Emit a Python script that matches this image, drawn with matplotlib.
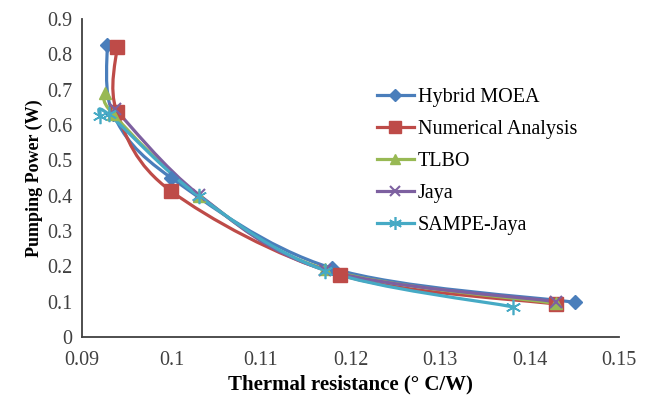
import matplotlib
matplotlib.use("Agg")
import matplotlib.pyplot as plt
from matplotlib.path import Path
from matplotlib.patches import PathPatch
from matplotlib.lines import Line2D
import numpy as np

# Data
hybrid_x = [0.0928, 0.0935, 0.1000, 0.1179, 0.1451]
hybrid_y = [0.827, 0.630, 0.450, 0.195, 0.098]
num_x = [0.0939, 0.0939, 0.1000, 0.1188, 0.1430]
num_y = [0.820, 0.637, 0.412, 0.176, 0.093]
tlbo_x = [0.0926, 0.0935, 0.1031, 0.1172, 0.1430]
tlbo_y = [0.690, 0.630, 0.400, 0.192, 0.095]
jaya_x = [0.0937, 0.1031, 0.1172, 0.1430]
jaya_y = [0.645, 0.402, 0.190, 0.100]
sampe_x = [0.0920, 0.0930, 0.1031, 0.1172, 0.1382]
sampe_y = [0.625, 0.630, 0.398, 0.188, 0.085]

series = [
    ("Hybrid MOEA", hybrid_x, hybrid_y, "#4A7EBB", "D", 7, 1),
    ("Numerical Analysis", num_x, num_y, "#BE4B48", "s", 10, 1),
    ("TLBO", tlbo_x, tlbo_y, "#98B954", "^", 9, 1),
    ("Jaya", jaya_x, jaya_y, "#7D60A0", "x", 9, 1.5),
    ("SAMPE-Jaya", sampe_x, sampe_y, "#46AAC5", (6, 2, 0), 11, 1.2),
]

plt.rcParams['font.family'] = ['Liberation Serif', 'DejaVu Serif']

fig = plt.figure(figsize=(6.49, 3.97), dpi=100)
ax = fig.add_axes([0.1263, 0.1511, 0.9538 - 0.1263, 0.952 - 0.1511])
ax.set_xlim(0.09, 0.15)
ax.set_ylim(0, 0.9)


def smooth_path(x, y):
    p = np.column_stack([x, y])
    n = len(p)
    verts = [p[0]]
    codes = [Path.MOVETO]
    for i in range(n - 1):
        p0 = p[i - 1] if i > 0 else p[i]
        p1 = p[i]
        p2 = p[i + 1]
        p3 = p[i + 2] if i + 2 < n else p[i + 1]
        c1 = p1 + (p2 - p0) / 6.0
        c2 = p2 - (p3 - p1) / 6.0
        verts += [c1, c2, p2]
        codes += [Path.CURVE4] * 3
    return Path(verts, codes)


handles = []
for name, x, y, c, m, ms, mew in series:
    patch = PathPatch(smooth_path(x, y), facecolor='none', edgecolor=c,
                      lw=2.3, capstyle='round', joinstyle='round')
    ax.add_patch(patch)
    ax.plot(x, y, linestyle='none', marker=m, markersize=ms, color=c,
            markeredgecolor=c, markeredgewidth=mew)
    handles.append(Line2D([], [], color=c, lw=2.3, marker=m, markersize=ms * 0.85,
                          markeredgecolor=c, markeredgewidth=mew, label=name))

ax.set_xticks([0.09, 0.10, 0.11, 0.12, 0.13, 0.14, 0.15])
ax.set_xticklabels(["0.09", "0.1", "0.11", "0.12", "0.13", "0.14", "0.15"])
ax.set_yticks(np.arange(0, 0.91, 0.1))
ax.set_yticklabels(["0", "0.1", "0.2", "0.3", "0.4", "0.5", "0.6", "0.7", "0.8", "0.9"])
ax.tick_params(length=0, labelsize=14.5, colors='#404040')
ax.tick_params(axis='x', pad=10)
ax.tick_params(axis='y', pad=7)
for s in ['top', 'right']:
    ax.spines[s].set_visible(False)
for s in ['left', 'bottom']:
    ax.spines[s].set_color('#404040')
    ax.spines[s].set_linewidth(1.3)

ax.set_xlabel("Thermal resistance (° C/W)", fontsize=15, fontweight='bold', labelpad=3)
ax.set_ylabel("Pumping Power (W)", fontsize=13, fontweight='bold', labelpad=3)

leg = ax.legend(handles=handles, loc='upper left', bbox_to_anchor=(0.535, 0.81),
                frameon=False, fontsize=14.5, handlelength=1.8, handletextpad=0.2,
                labelspacing=0.65, borderaxespad=0)

fig.savefig("out.png", dpi=100)
